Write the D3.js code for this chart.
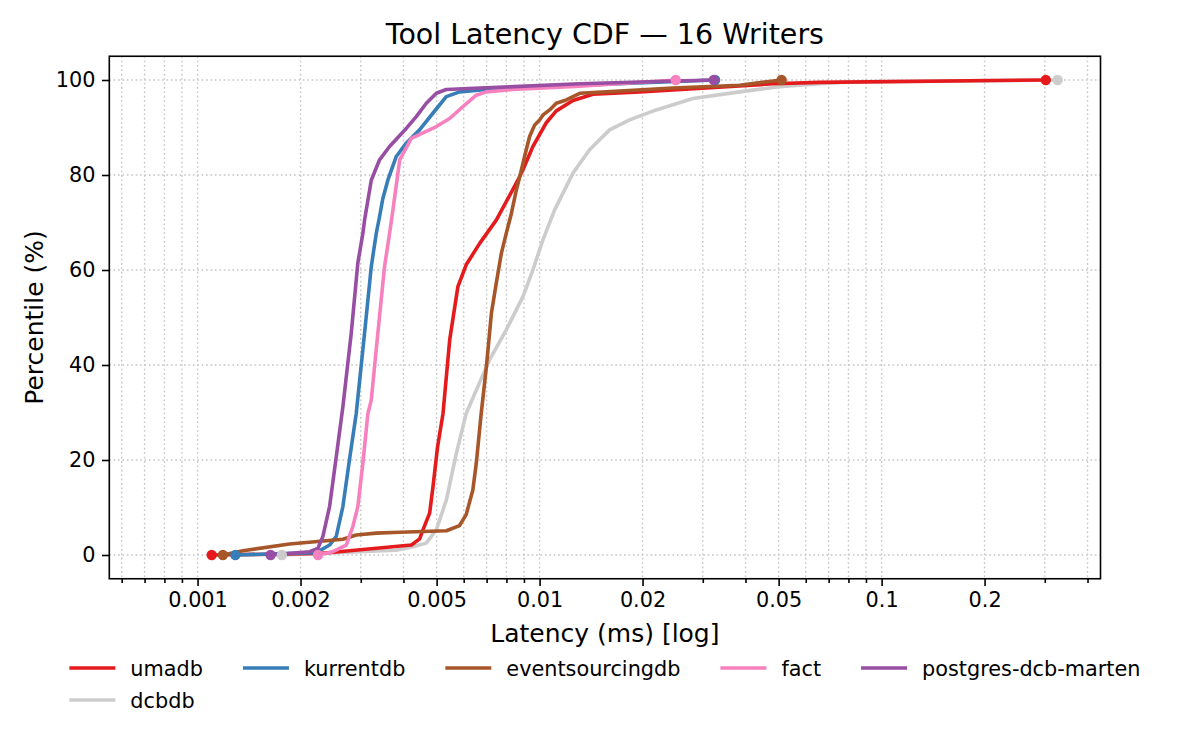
<!DOCTYPE html>
<html>
<head>
<meta charset="utf-8">
<script src="https://cdn.jsdelivr.net/npm/d3@7"></script>
<style>
  html, body { margin: 0; padding: 0; background: #fff; }
  svg { display: block; font-family: "DejaVu Sans", sans-serif; }
</style>
</head>
<body>
<div id="container"></div>
<script>
// Series names, colours, and the CDF points
const seriesNames  = ["umadb", "kurrentdb", "eventsourcingdb", "fact", "postgres-dcb-marten", "dcbdb"];
const seriesColors = ["#e41a1c", "#377eb8", "#a65628", "#f781bf", "#984ea3", "#cccccc"];

const umadbMs  = [0.0011, 0.00228, 0.00422, 0.00446, 0.00456, 0.00477, 0.00488, 0.00503, 0.00522, 0.00546, 0.00577, 0.0061, 0.00668, 0.00747, 0.00864, 0.00894, 0.00956, 0.0100, 0.01046, 0.01119, 0.01252, 0.01432, 0.01961, 0.03073, 0.0481, 0.0659, 0.302];
const umadbPct = [0, 0.3, 2.1, 3.4, 5.3, 8.8, 14.4, 22.7, 29.8, 45.3, 56.5, 61.1, 65.6, 70.5, 78.9, 81.1, 86.0, 88.5, 91.0, 93.5, 95.7, 97.0, 97.5, 98.3, 99.2, 99.5, 100];

const kurrentMs  = [0.00129, 0.002224, 0.002432, 0.002544, 0.00266, 0.00278, 0.00291, 0.003078, 0.00322, 0.00333, 0.0034, 0.00348, 0.0036, 0.003811, 0.004075, 0.004457, 0.004875, 0.005336, 0.005836, 0.006987, 0.0131, 0.0326];
const kurrentPct = [0, 0.5, 2.1, 3.9, 10.2, 20.0, 29.8, 46.7, 60.7, 67.7, 71.0, 75.0, 78.9, 83.9, 86.7, 89.5, 93.0, 96.5, 97.5, 98.0, 98.9, 100];

const esdbMs  = [0.001186, 0.001357, 0.001858, 0.00266, 0.00291, 0.00333, 0.0039, 0.00534, 0.005836, 0.0061, 0.00638, 0.00653, 0.00675, 0.00699, 0.00723, 0.00747, 0.00773, 0.00799, 0.00827, 0.00855, 0.00874, 0.00904, 0.00935, 0.00967, 0.0100, 0.01022, 0.0107, 0.01119, 0.01197, 0.0131, 0.01567, 0.02454, 0.03844, 0.051];
const esdbPct = [0, 0.9, 2.3, 3.3, 4.2, 4.6, 4.8, 5.1, 6.2, 8.5, 13.7, 19.3, 29.8, 39.6, 50.9, 57.2, 63.5, 67.7, 71.9, 76.8, 79.5, 83.9, 88.1, 90.5, 91.6, 92.6, 93.7, 95.1, 95.8, 97.2, 97.5, 98.3, 98.9, 100];

const factMs  = [0.00225, 0.002486, 0.002721, 0.002845, 0.002942, 0.003043, 0.003148, 0.00322, 0.003366, 0.003521, 0.003642, 0.003725, 0.0039, 0.004216, 0.004989, 0.005458, 0.005967, 0.006531, 0.006987, 0.008355, 0.0131, 0.025];
const factPct = [0, 0.7, 2.1, 6.0, 10.2, 19.3, 29.8, 32.6, 46.7, 60.7, 67.7, 72.6, 83.2, 87.7, 90.2, 91.9, 94.4, 96.8, 97.5, 98.0, 98.7, 100];

const martenMs  = [0.001635, 0.002126, 0.002248, 0.002325, 0.002432, 0.002544, 0.00266, 0.002814, 0.002942, 0.003043, 0.003078, 0.003148, 0.00322, 0.003405, 0.003642, 0.004075, 0.00436, 0.004664, 0.004989, 0.005336, 0.00668, 0.0131, 0.025, 0.0323];
const martenPct = [0, 0.7, 1.4, 3.9, 10.2, 20.7, 31.2, 46.7, 61.5, 67.7, 70.5, 74.7, 78.9, 83.2, 86.0, 89.8, 92.3, 95.1, 97.2, 98.0, 98.3, 99.2, 99.8, 100];

const dcbdbMs  = [0.001764, 0.00225, 0.0038, 0.00426, 0.00466, 0.00499, 0.00534, 0.00571, 0.0061, 0.00653, 0.00714, 0.00799, 0.00894, 0.00956, 0.01022, 0.01106, 0.01252, 0.014, 0.01602, 0.01833, 0.02194, 0.02806, 0.03844, 0.0503, 0.0659, 0.0806, 0.327];
const dcbdbPct = [0, 0.3, 1.0, 1.75, 2.5, 5.3, 11.6, 21.4, 29.8, 34.7, 41.1, 47.4, 54.4, 60.0, 66.3, 72.6, 80.4, 85.3, 89.5, 91.6, 93.7, 96.1, 97.5, 98.6, 99.2, 99.6, 100];

const seriesMs  = [umadbMs, kurrentMs, esdbMs, factMs, martenMs, dcbdbMs];
const seriesPct = [umadbPct, kurrentPct, esdbPct, factPct, martenPct, dcbdbPct];

const xTicks      = [0.001, 0.002, 0.005, 0.01, 0.02, 0.05, 0.1, 0.2];
const xTickLabels = ["0.001", "0.002", "0.005", "0.01", "0.02", "0.05", "0.1", "0.2"];
const yTicks      = [0, 20, 40, 60, 80, 100];

const width  = 1200;
const height = 750;
const plot   = { left: 109.3, right: 1100.5, top: 56.25, bottom: 578.75 };

const tickFont  = 20.8;
const labelFont = 25;
const lineW     = 3.6;

const series = seriesNames.map((name, i) => ({
  name,
  color: seriesColors[i],
  points: seriesMs[i].map((ms, j) => ({ ms, pct: seriesPct[i][j] }))
}));

const svg = d3.select("#container")
  .append("svg")
    .attr("width", width)
    .attr("height", height);

const x = d3.scaleLog()
  .domain([0.000552, 0.4365])
  .range([plot.left, plot.right]);

const y = d3.scaleLinear()
  .domain([-5, 105])
  .range([plot.bottom, plot.top]);

// minor ticks: every 1..9 step per decade, minus the labelled ones
const minorTicks = x.ticks(40).filter(v => !xTicks.some(t => Math.abs(t - v) / t < 1e-6));

// Grid
const grid = svg.append("g")
  .attr("stroke", "#c4c4c4")
  .attr("stroke-width", 1.4)
  .attr("stroke-dasharray", "1.6,2.8");

grid.selectAll("line.vx")
  .data(xTicks.concat(minorTicks))
  .join("line")
    .attr("x1", d => x(d)).attr("x2", d => x(d))
    .attr("y1", plot.top).attr("y2", plot.bottom);

grid.selectAll("line.hy")
  .data(yTicks)
  .join("line")
    .attr("x1", plot.left).attr("x2", plot.right)
    .attr("y1", d => y(d)).attr("y2", d => y(d));

// Axes
const xAxis = svg.append("g")
  .attr("transform", `translate(0,${plot.bottom})`)
  .call(d3.axisBottom(x)
    .tickValues(xTicks)
    .tickFormat((d, i) => xTickLabels[i])
    .tickSize(7.3)
    .tickPadding(6.5)
    .tickSizeOuter(0));

svg.append("g")
  .attr("transform", `translate(0,${plot.bottom})`)
  .call(d3.axisBottom(x)
    .tickValues(minorTicks)
    .tickFormat("")
    .tickSize(4.2)
    .tickSizeOuter(0));

const yAxis = svg.append("g")
  .attr("transform", `translate(${plot.left},0)`)
  .call(d3.axisLeft(y)
    .tickValues(yTicks)
    .tickSize(7.3)
    .tickPadding(6.5)
    .tickSizeOuter(0));

svg.selectAll(".domain").remove();
svg.selectAll(".tick line").attr("stroke", "#000").attr("stroke-width", 1.6);
svg.selectAll(".tick text")
  .attr("fill", "#000")
  .attr("font-size", tickFont)
  .attr("font-family", "DejaVu Sans");

// Lines (dcbdb sits underneath the rest)
const line = d3.line()
  .x(d => x(d.ms))
  .y(d => y(d.pct));

const drawOrder = [series[5]].concat(series.slice(0, 5));

svg.append("g")
  .selectAll("path")
  .data(drawOrder)
  .join("path")
    .attr("d", d => line(d.points))
    .attr("fill", "none")
    .attr("stroke", d => d.color)
    .attr("stroke-width", lineW)
    .attr("stroke-linejoin", "round");

// End markers at min and max latency
const ends = drawOrder.flatMap(s => [
  { s, p: s.points[0] },
  { s, p: s.points[s.points.length - 1] }
]);

svg.append("g")
  .selectAll("circle")
  .data(ends)
  .join("circle")
    .attr("cx", d => x(d.p.ms))
    .attr("cy", d => y(d.p.pct))
    .attr("r", 5.2)
    .attr("fill", d => d.s.color);

// Frame
svg.append("rect")
  .attr("x", plot.left).attr("y", plot.top)
  .attr("width", plot.right - plot.left)
  .attr("height", plot.bottom - plot.top)
  .attr("fill", "none")
  .attr("stroke", "#000")
  .attr("stroke-width", 1.6);

// Title and axis labels
svg.append("text")
  .attr("x", (plot.left + plot.right) / 2)
  .attr("y", 44)
  .attr("text-anchor", "middle")
  .attr("font-size", 28.5)
  .text("Tool Latency CDF — 16 Writers");

svg.append("text")
  .attr("x", (plot.left + plot.right) / 2)
  .attr("y", 642)
  .attr("text-anchor", "middle")
  .attr("font-size", labelFont)
  .text("Latency (ms) [log]");

svg.append("text")
  .attr("transform", `translate(43,${(plot.top + plot.bottom) / 2}) rotate(-90)`)
  .attr("text-anchor", "middle")
  .attr("font-size", labelFont)
  .text("Percentile (%)");

// Legend: 5 columns, second row holds dcbdb
const handleLen = 46, handlePad = 15, colGap = 40;
const rowY = [668, 700];
const ncol = 5;

const legend = svg.append("g");
const measure = legend.append("text").attr("font-size", tickFont);
const textW = series.map(s => measure.text(s.name).node().getComputedTextLength());
measure.remove();

const colW = d3.range(ncol).map(c =>
  d3.max(series.filter((s, i) => i % ncol === c), s => textW[series.indexOf(s)]) + handleLen + handlePad);
const totalW = d3.sum(colW) + colGap * (ncol - 1);
const startX = (plot.left + plot.right) / 2 - totalW / 2;
const colX = colW.map((w, c) => startX + d3.sum(colW.slice(0, c)) + colGap * c);

const items = legend.selectAll("g")
  .data(series)
  .join("g")
    .attr("transform", (d, i) => `translate(${colX[i % ncol]},${rowY[Math.floor(i / ncol)]})`);

items.append("line")
  .attr("x1", 0).attr("x2", handleLen)
  .attr("stroke", d => d.color)
  .attr("stroke-width", lineW);

items.append("text")
  .attr("x", handleLen + handlePad)
  .attr("y", 7.5)
  .attr("font-size", tickFont)
  .text(d => d.name);
</script>
</body>
</html>
